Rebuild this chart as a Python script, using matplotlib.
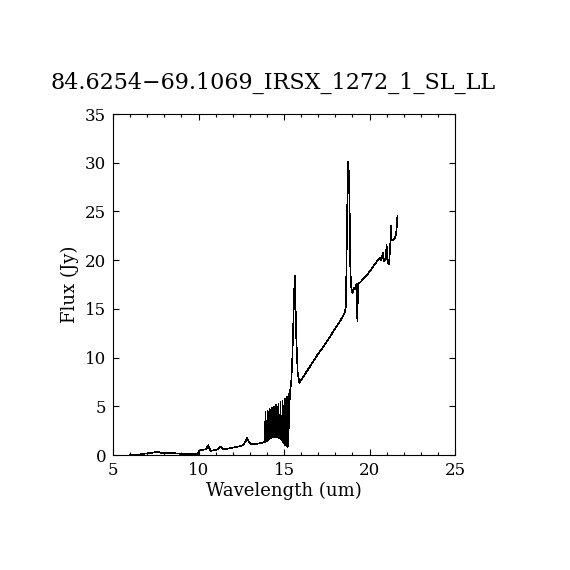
import matplotlib
matplotlib.use("Agg")
import matplotlib.pyplot as plt
from matplotlib.ticker import MultipleLocator

title = "84.6254\u221269.1069_IRSX_1272_1_SL_LL"
xlabel = "Wavelength (um)"
ylabel = "Flux (Jy)"

# short-wavelength part (SL)
wl_a = [5.97, 6.2, 6.5, 6.9, 7.2, 7.5, 7.7, 7.9, 8.2, 8.5, 8.8, 9.0, 9.4, 9.8,
        9.97, 10.02, 10.2, 10.45, 10.57, 10.7, 10.9, 11.1, 11.28, 11.45, 11.7,
        12.0, 12.3, 12.6, 12.75, 12.85, 12.95, 13.1, 13.4, 13.7, 13.88]
fx_a = [0.05, 0.05, 0.05, 0.15, 0.2, 0.3, 0.28, 0.2, 0.22, 0.2, 0.15, 0.1, 0.1, 0.1,
        0.12, 0.45, 0.5, 0.6, 1.0, 0.4, 0.5, 0.55, 0.85, 0.6, 0.65,
        0.75, 0.85, 1.0, 1.4, 1.75, 1.3, 1.1, 1.15, 1.25, 1.35]

# noisy overlap region
wl_b = [13.920, 13.951, 13.983, 14.014, 14.045, 14.076, 14.108, 14.139,
        14.170, 14.201, 14.233, 14.264, 14.295, 14.326, 14.358, 14.389,
        14.420, 14.451, 14.483, 14.514, 14.545, 14.576, 14.608, 14.639,
        14.670, 14.701, 14.733, 14.764, 14.795, 14.826, 14.858, 14.889,
        14.920, 14.951, 14.983, 15.014, 15.045, 15.076, 15.108, 15.139,
        15.170, 15.201, 15.233, 15.264, 15.295, 15.326]
fx_b = [4.40, 1.40, 3.30, 1.45, 4.55, 1.55, 3.40, 1.60,
        4.70, 1.70, 3.50, 1.75, 4.85, 1.80, 3.60, 1.85,
        5.00, 1.85, 3.70, 1.85, 5.15, 1.85, 3.80, 1.80,
        5.30, 1.75, 3.90, 1.70, 5.45, 1.60, 4.00, 1.50,
        5.60, 1.35, 4.10, 1.20, 5.75, 1.00, 4.25, 0.85,
        5.95, 0.80, 4.40, 0.90, 6.30, 5.50]

# long-wavelength part (LL)
wl_c = [15.36, 15.42, 15.48, 15.55, 15.6, 15.63, 15.66, 15.72, 15.8, 15.9,
        16.0, 16.3, 16.6, 17.0, 17.3, 17.6, 18.0, 18.3, 18.55, 18.62,
        18.67, 18.72, 18.76, 18.8, 18.84, 18.88, 18.93, 19.0, 19.08, 19.15,
        19.25, 19.29, 19.33, 19.45, 19.6, 19.8, 20.0, 20.2, 20.4, 20.6,
        20.7, 20.78, 20.85, 20.95, 21.0, 21.05, 21.14, 21.2, 21.26, 21.3,
        21.4, 21.5, 21.58, 21.63]
fx_c = [6.6, 7.4, 9.5, 14.0, 17.0, 18.4, 16.5, 12.0, 8.5, 7.4,
        7.7, 8.5, 9.3, 10.4, 11.1, 11.9, 13.0, 13.8, 14.6, 15.2,
        22.0, 28.0, 30.1, 28.5, 25.0, 19.0, 17.2, 16.6, 17.2, 17.0,
        17.6, 13.7, 17.6, 17.7, 18.0, 18.4, 18.8, 19.3, 19.8, 20.2,
        20.0, 20.8, 19.9, 20.1, 21.6, 19.8, 19.6, 21.0, 23.5, 22.0,
        22.1, 22.3, 23.0, 24.5]

wl = wl_a + wl_b + wl_c
fx = fx_a + fx_b + fx_c

plt.rcParams['font.family'] = ['DejaVu Serif']
fig = plt.figure(figsize=(5.7, 5.7), dpi=100)
ax = fig.add_axes([113/570, 115/570, 342/570, 341/570])
ax.plot(wl, fx, color='black', linewidth=0.45, antialiased=False)
ax.set_xlim(5, 25)
ax.set_ylim(0, 35)
ax.xaxis.set_major_locator(MultipleLocator(5))
ax.xaxis.set_minor_locator(MultipleLocator(1))
ax.yaxis.set_major_locator(MultipleLocator(5))
ax.tick_params(axis='both', which='both', direction='in', top=True, right=True,
               labelsize=12, width=0.8)
ax.tick_params(axis='both', which='major', length=4.5)
ax.tick_params(axis='x', which='minor', length=2.5)
ax.tick_params(axis='y', which='minor', left=False, right=False)
ax.tick_params(axis='x', pad=5)
ax.tick_params(axis='y', pad=5)
for s in ax.spines.values():
    s.set_linewidth(0.8)
ax.set_xlabel(xlabel, fontsize=13, labelpad=2)
ax.set_ylabel(ylabel, fontsize=13, labelpad=4)
fig.text(273.5/570, 1 - 83/570, title, ha='center', va='center', fontsize=16)
fig.savefig("out.png", dpi=100)
